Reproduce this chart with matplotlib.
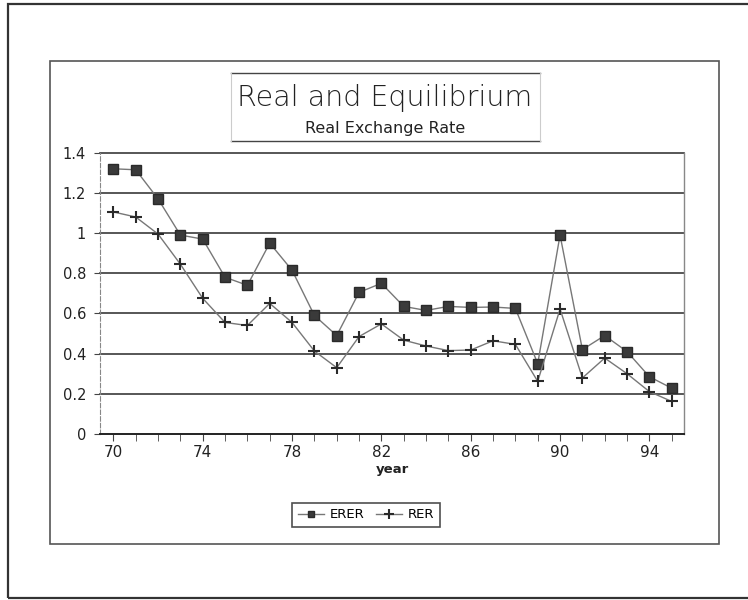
import matplotlib
matplotlib.use("Agg")
import matplotlib.pyplot as plt
from matplotlib.patches import Rectangle
from matplotlib.lines import Line2D

years = list(range(70, 96))
erer = [1.32, 1.315, 1.17, 0.99, 0.97, 0.78, 0.74, 0.95, 0.815, 0.59, 0.49, 0.705, 0.75,
        0.635, 0.615, 0.635, 0.63, 0.632, 0.625, 0.35, 0.99, 0.42, 0.49, 0.41, 0.285, 0.228]
rer = [1.105, 1.08, 0.995, 0.845, 0.675, 0.555, 0.54, 0.65, 0.555, 0.413, 0.33, 0.485, 0.548,
       0.467, 0.438, 0.415, 0.418, 0.464, 0.446, 0.262, 0.622, 0.279, 0.378, 0.3, 0.211, 0.162]
xtick_labels = [70, 74, 78, 82, 86, 90, 94]
yticks = [0, 0.2, 0.4, 0.6, 0.8, 1, 1.2, 1.4]
ytick_labels = ["0", "0.2", "0.4", "0.6", "0.8", "1", "1.2", "1.4"]

W, H = 748, 600
fig = plt.figure(figsize=(7.48, 6.0), dpi=100)
fig.patch.set_facecolor("white")

def fx(px):
    return px / W

def fy(py):
    return 1 - py / H

# outer frame
fig.patches.append(Rectangle((fx(8), fy(598)), fx(760) - fx(8), fy(4) - fy(598),
                             transform=fig.transFigure, fill=False, edgecolor="#333333", lw=1.6))
# inner frame
fig.patches.append(Rectangle((fx(50), fy(544)), fx(719) - fx(50), fy(61) - fy(544),
                             transform=fig.transFigure, fill=False, edgecolor="#555555", lw=1.2))

ax = fig.add_axes([fx(100), fy(434), fx(684) - fx(100), fy(152.7) - fy(434)])
ax.set_xlim(69.4, 95.55)
ax.set_ylim(0, 1.4)

for y in yticks[1:]:
    ax.axhline(y, color="#3a3a3a", lw=1.2, zorder=1, clip_on=False)

ax.plot(years, erer, color="#777777", lw=1.0, marker="s", markersize=6.5,
        markerfacecolor="#3a3a3a", markeredgecolor="#2a2a2a", zorder=3, label="ERER")
ax.plot(years, rer, color="#777777", lw=1.0, marker="+", markersize=9, mew=1.5,
        markeredgecolor="#2a2a2a", zorder=3, label="RER")

ax.set_xticks(years, minor=True)
ax.set_xticks(xtick_labels)
ax.set_xticklabels([str(v) for v in xtick_labels], fontsize=11, color="#222222")
ax.set_yticks(yticks)
ax.set_yticklabels(ytick_labels, fontsize=10.5, color="#222222")
ax.tick_params(axis="x", which="both", direction="out", length=5, color="#444444", pad=3)
ax.tick_params(axis="y", direction="out", length=4, color="#444444", pad=6)
ax.spines["top"].set_visible(False)
ax.spines["bottom"].set_color("#222222")
ax.spines["bottom"].set_linewidth(1.4)
ax.spines["left"].set_color("#888888")
ax.spines["left"].set_linestyle((0, (4, 2)))
ax.spines["right"].set_color("#888888")
ax.spines["right"].set_linewidth(1.0)

ax.set_xlabel("year", fontsize=9.5, fontweight="bold", labelpad=2, color="#222222")

# title box
tb_l, tb_r, tb_t, tb_b = 231, 540, 73, 141
fig.add_artist(Line2D([fx(tb_l), fx(tb_r)], [fy(tb_t), fy(tb_t)], color="#444444", lw=1.0))
fig.add_artist(Line2D([fx(tb_l), fx(tb_r)], [fy(tb_b), fy(tb_b)], color="#444444", lw=1.0))
fig.add_artist(Line2D([fx(tb_l), fx(tb_l)], [fy(tb_t), fy(tb_b)], color="#cccccc", lw=0.8))
fig.add_artist(Line2D([fx(tb_r), fx(tb_r)], [fy(tb_t), fy(tb_b)], color="#cccccc", lw=0.8))
fig.text(fx(385), fy(98), "Real and Equilibrium", ha="center", va="center",
         fontsize=20.5, color="#222222", fontweight="light", family="DejaVu Sans")
fig.text(fx(385), fy(128), "Real Exchange Rate", ha="center", va="center",
         fontsize=11.5, color="#222222", family="DejaVu Sans")

leg = ax.legend(loc="center", bbox_to_anchor=(fx(366), fy(515)), bbox_transform=fig.transFigure,
                ncol=2, frameon=True, fancybox=False, fontsize=9.5, handlelength=2.0,
                columnspacing=0.9, handletextpad=0.4, borderpad=0.45, markerscale=0.75)
leg.get_frame().set_edgecolor("#222222")
leg.get_frame().set_linewidth(1.2)

fig.savefig("out.png", dpi=100, facecolor="white")
